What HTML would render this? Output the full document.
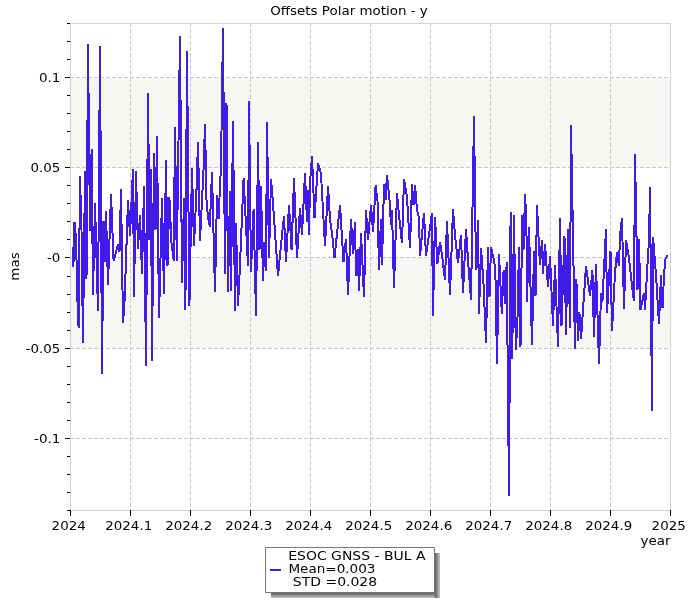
<!DOCTYPE html>
<html lang="en"><head><meta charset="utf-8"><title>Offsets Polar motion - y</title>
<style>html,body{margin:0;padding:0;background:#fff}svg{display:block}text{font-family:"DejaVu Sans","Liberation Sans",sans-serif;fill:#000}</style></head><body>
<svg width="700" height="600" viewBox="0 0 700 600">
<rect width="700" height="600" fill="#fff"/>
<g shape-rendering="crispEdges">
<rect x="71" y="78" width="599" height="90" fill="#f6f6f2"/>
<rect x="71" y="258" width="599" height="90" fill="#f6f6f2"/>
<line x1="130.5" y1="23" x2="130.5" y2="510" stroke="#c9c9c9" stroke-dasharray="4 2"/>
<line x1="190.5" y1="23" x2="190.5" y2="510" stroke="#c9c9c9" stroke-dasharray="4 2"/>
<line x1="250.5" y1="23" x2="250.5" y2="510" stroke="#c9c9c9" stroke-dasharray="4 2"/>
<line x1="310.5" y1="23" x2="310.5" y2="510" stroke="#c9c9c9" stroke-dasharray="4 2"/>
<line x1="370.5" y1="23" x2="370.5" y2="510" stroke="#c9c9c9" stroke-dasharray="4 2"/>
<line x1="430.5" y1="23" x2="430.5" y2="510" stroke="#c9c9c9" stroke-dasharray="4 2"/>
<line x1="490.5" y1="23" x2="490.5" y2="510" stroke="#c9c9c9" stroke-dasharray="4 2"/>
<line x1="550.5" y1="23" x2="550.5" y2="510" stroke="#c9c9c9" stroke-dasharray="4 2"/>
<line x1="610.5" y1="23" x2="610.5" y2="510" stroke="#c9c9c9" stroke-dasharray="4 2"/>
<line x1="70" y1="77.5" x2="670" y2="77.5" stroke="#c9c9c9" stroke-dasharray="4 2"/>
<line x1="70" y1="167.5" x2="670" y2="167.5" stroke="#c9c9c9" stroke-dasharray="4 2"/>
<line x1="70" y1="257.5" x2="670" y2="257.5" stroke="#c9c9c9" stroke-dasharray="4 2"/>
<line x1="70" y1="348.5" x2="670" y2="348.5" stroke="#c9c9c9" stroke-dasharray="4 2"/>
<line x1="70" y1="438.5" x2="670" y2="438.5" stroke="#c9c9c9" stroke-dasharray="4 2"/>
<rect x="70.5" y="23.5" width="600" height="487" fill="none" stroke="#d2d2d2"/>
<line x1="67" y1="23.5" x2="70" y2="23.5" stroke="#000"/>
<line x1="67" y1="41.5" x2="70" y2="41.5" stroke="#000"/>
<line x1="67" y1="59.5" x2="70" y2="59.5" stroke="#000"/>
<line x1="65" y1="77.5" x2="70" y2="77.5" stroke="#000"/>
<line x1="67" y1="95.5" x2="70" y2="95.5" stroke="#000"/>
<line x1="67" y1="113.5" x2="70" y2="113.5" stroke="#000"/>
<line x1="67" y1="131.5" x2="70" y2="131.5" stroke="#000"/>
<line x1="67" y1="149.5" x2="70" y2="149.5" stroke="#000"/>
<line x1="65" y1="167.5" x2="70" y2="167.5" stroke="#000"/>
<line x1="67" y1="185.5" x2="70" y2="185.5" stroke="#000"/>
<line x1="67" y1="203.5" x2="70" y2="203.5" stroke="#000"/>
<line x1="67" y1="221.5" x2="70" y2="221.5" stroke="#000"/>
<line x1="67" y1="239.5" x2="70" y2="239.5" stroke="#000"/>
<line x1="65" y1="257.5" x2="70" y2="257.5" stroke="#000"/>
<line x1="67" y1="276.5" x2="70" y2="276.5" stroke="#000"/>
<line x1="67" y1="294.5" x2="70" y2="294.5" stroke="#000"/>
<line x1="67" y1="312.5" x2="70" y2="312.5" stroke="#000"/>
<line x1="67" y1="330.5" x2="70" y2="330.5" stroke="#000"/>
<line x1="65" y1="348.5" x2="70" y2="348.5" stroke="#000"/>
<line x1="67" y1="366.5" x2="70" y2="366.5" stroke="#000"/>
<line x1="67" y1="384.5" x2="70" y2="384.5" stroke="#000"/>
<line x1="67" y1="402.5" x2="70" y2="402.5" stroke="#000"/>
<line x1="67" y1="420.5" x2="70" y2="420.5" stroke="#000"/>
<line x1="65" y1="438.5" x2="70" y2="438.5" stroke="#000"/>
<line x1="67" y1="456.5" x2="70" y2="456.5" stroke="#000"/>
<line x1="67" y1="474.5" x2="70" y2="474.5" stroke="#000"/>
<line x1="67" y1="492.5" x2="70" y2="492.5" stroke="#000"/>
<line x1="67" y1="510.5" x2="70" y2="510.5" stroke="#000"/>
<line x1="70.5" y1="510" x2="70.5" y2="516" stroke="#000"/>
<line x1="130.5" y1="510" x2="130.5" y2="516" stroke="#000"/>
<line x1="190.5" y1="510" x2="190.5" y2="516" stroke="#000"/>
<line x1="250.5" y1="510" x2="250.5" y2="516" stroke="#000"/>
<line x1="310.5" y1="510" x2="310.5" y2="516" stroke="#000"/>
<line x1="370.5" y1="510" x2="370.5" y2="516" stroke="#000"/>
<line x1="430.5" y1="510" x2="430.5" y2="516" stroke="#000"/>
<line x1="490.5" y1="510" x2="490.5" y2="516" stroke="#000"/>
<line x1="550.5" y1="510" x2="550.5" y2="516" stroke="#000"/>
<line x1="610.5" y1="510" x2="610.5" y2="516" stroke="#000"/>
<line x1="670.5" y1="510" x2="670.5" y2="516" stroke="#000"/>
</g>
<polyline points="72.5,247 73.4,267 74.5,222 76,238 77.6,305 78.6,328 80,176 81.5,230 83,343 85,171 86.5,279 88,44 90,231 91.6,149 93,295 95,203 98,311 100,46 102,374 103.5,221 104.8,262 106,211 108,285 111,194 113.6,261 118,244 119.5,252 121,189 123,323 124.6,300 126,260 128,200 130,236 133,169 134,297 136,171 138,249 140,215 142,274 144,186 146,366 148,93 149.5,240 151,169 152,361 154,153 155.5,230 157,136 159,318 162,198 164,294 166,160 167.5,266 169.4,197 171.5,243 173.7,260.5 175,127 176.8,261 180,36 182,283 184,198 185.4,310 187,51 189.4,306 192,168 194,246 196.4,193 198,142 200,240.6 203.6,168 205,124 206.6,204 208.3,219 209.8,226.5 212,172 215,292 217,195 218.5,219 221,166 223,28 225,274 226.5,103 228,292 230,191 231,291 233,121 235,311 236,223 238,306 240,265 243.6,178 248,266 249,101 251,272 253.6,209 256,316 258,142 259.5,250 261,186 263,281 264.5,242 266,271 267,122 269,258 271,179 273,203 278,276 281,245 284,216 286,262 289,205 291.6,250 294,178 297,258 300,208 302,235 305,173 307,222 308,190 309,235 310,183 312,156 314.5,218 318,163 321,174 325,246 328,186 330,219 332,233 334.5,258 340,205 343.5,262 346,239 348,295 351,219 353,254 355,222 356,276 357.6,249 359,291 361,233 364,297 366,210 368,240 371,205 373,232 375.6,185 377.5,201 379,270 381,219 382,265 384,184 385.5,200 387,175 389.5,200 391,225 392,210 394,288 397,193 399,215 402,243 404,179 407,197 410,248 412,184 413.5,205 415,185 417,210 419,218 420,256 424,213 426,256 429,235 432,213 433,316 435,217 437.4,264 440,242 442,255 445,280 447,221 450,295 453,209 455,235 458,263 461,235 463,293 466,229 468,260 471,300 474,116 476,270 478,220 479,314 481,248 483.6,285 486,343 488,247 489.5,297 491,247 493.5,258 495.3,268 497,364 499,254 501.8,313.6 503.6,270 505.2,304 506.7,262 509,496 510.6,212 512.2,359 514,215 515.8,350 517.4,322 519,247 520.5,347 522.2,215 523.5,250 525,194 526.4,221 527,302 529,227 532,345 534,251 535.5,296 537,205 538.4,235 540,265 542,240 543,274 545,244 548,287 550,256 553,326 555,265 558,347 560,218 561.5,326 564.5,236 566,335 568,229 570,328 571,125 575,349 576.4,279 578,341 579.4,312 581,339 586,266 590,296 592.4,270 594,337 596,264 599,364 601,293 602.4,302 606,229 607,313 610.5,251 612,331 615,273 617,252 619,266 620,235 622,218 624,309 626,240 629,258 631,276 633,294 634,301 635,154 637.5,290 639,239 640.5,310 644,293 645,309.5 647.6,262 649,241 650,187 652,411 653,237 656,275 659,323.5 661,275 662.5,308 664.2,272 665.6,258 667.6,255.5" fill="none" stroke="#401cea" stroke-width="2" stroke-linejoin="bevel" shape-rendering="crispEdges"/>
<text transform="translate(349,15) scale(1.12,1)" font-size="12" text-anchor="middle" xml:space="preserve">Offsets Polar motion - y</text>
<text transform="translate(60.3,81.7) scale(1.12,1)" font-size="12" text-anchor="end" xml:space="preserve">0.1</text>
<text transform="translate(60.3,171.7) scale(1.12,1)" font-size="12" text-anchor="end" xml:space="preserve">0.05</text>
<text transform="translate(60.3,261.7) scale(1.12,1)" font-size="12" text-anchor="end" xml:space="preserve">-0</text>
<text transform="translate(60.3,352.7) scale(1.12,1)" font-size="12" text-anchor="end" xml:space="preserve">-0.05</text>
<text transform="translate(60.3,442.7) scale(1.12,1)" font-size="12" text-anchor="end" xml:space="preserve">-0.1</text>
<text transform="translate(68.7,530) scale(1.12,1)" font-size="12" text-anchor="middle" xml:space="preserve">2024</text>
<text transform="translate(128.7,530) scale(1.12,1)" font-size="12" text-anchor="middle" xml:space="preserve">2024.1</text>
<text transform="translate(188.7,530) scale(1.12,1)" font-size="12" text-anchor="middle" xml:space="preserve">2024.2</text>
<text transform="translate(248.7,530) scale(1.12,1)" font-size="12" text-anchor="middle" xml:space="preserve">2024.3</text>
<text transform="translate(308.7,530) scale(1.12,1)" font-size="12" text-anchor="middle" xml:space="preserve">2024.4</text>
<text transform="translate(368.7,530) scale(1.12,1)" font-size="12" text-anchor="middle" xml:space="preserve">2024.5</text>
<text transform="translate(428.7,530) scale(1.12,1)" font-size="12" text-anchor="middle" xml:space="preserve">2024.6</text>
<text transform="translate(488.7,530) scale(1.12,1)" font-size="12" text-anchor="middle" xml:space="preserve">2024.7</text>
<text transform="translate(548.7,530) scale(1.12,1)" font-size="12" text-anchor="middle" xml:space="preserve">2024.8</text>
<text transform="translate(608.7,530) scale(1.12,1)" font-size="12" text-anchor="middle" xml:space="preserve">2024.9</text>
<text transform="translate(668.7,530) scale(1.12,1)" font-size="12" text-anchor="middle" xml:space="preserve">2025</text>
<text transform="translate(670.5,545) scale(1.12,1)" font-size="12" text-anchor="end" xml:space="preserve">year</text>
<text transform="translate(19,266.5) rotate(-90) scale(1.12,1)" font-size="12" text-anchor="middle">mas</text>
<defs><linearGradient id="sv" x1="0" y1="0" x2="0" y2="1"><stop offset="0" stop-color="#5e5e5e"/><stop offset="1" stop-color="#c4c4c4"/></linearGradient><linearGradient id="sh" x1="0" y1="0" x2="1" y2="0"><stop offset="0" stop-color="#5e5e5e"/><stop offset="1" stop-color="#c4c4c4"/></linearGradient></defs>
<g shape-rendering="crispEdges">
<rect x="271" y="593" width="169" height="5" fill="url(#sv)"/>
<rect x="435" y="553" width="5" height="45" fill="url(#sh)"/>
<rect x="265.5" y="547.5" width="169" height="45" fill="#fff" stroke="#777"/>
<line x1="270" y1="570" x2="281" y2="570" stroke="#401cea" stroke-width="2"/>
</g>
<text transform="translate(288.2,559.6) scale(1.165,1)" font-size="12" text-anchor="start" xml:space="preserve">ESOC GNSS - BUL A</text>
<text transform="translate(288.4,572.7) scale(1.13,1)" font-size="12" text-anchor="start" xml:space="preserve">Mean=0.003</text>
<text transform="translate(288.4,585.8) scale(1.165,1)" font-size="12" text-anchor="start" xml:space="preserve"> STD =0.028</text>
</svg></body></html>
